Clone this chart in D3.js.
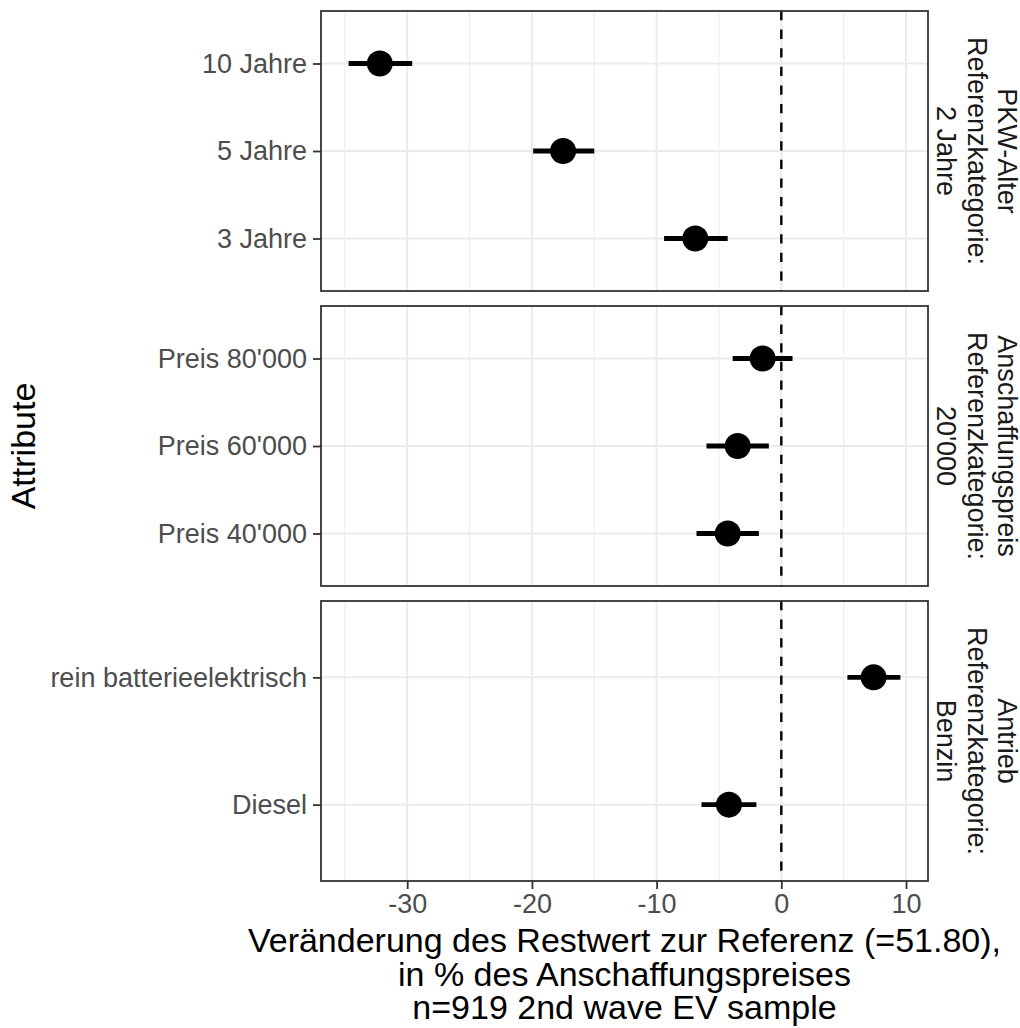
<!DOCTYPE html>
<html>
<head>
<meta charset="utf-8">
<script src="https://cdn.jsdelivr.net/npm/d3@7"></script>
<style>
  html, body { margin: 0; padding: 0; background: #ffffff; }
  svg { display: block; font-family: "Liberation Sans", Arial, Helvetica, sans-serif; }
</style>
</head>
<body>
<svg id="chart" width="1020" height="1028"></svg>
<script>
// ---- data ----
const facetTitles = [
  ["PKW-Alter", "Referenzkategorie:", "2 Jahre"],
  ["Anschaffungspreis", "Referenzkategorie:", "20'000"],
  ["Antrieb", "Referenzkategorie:", "Benzin"]
];
const attributes = ["10 Jahre", "5 Jahre", "3 Jahre",
                    "Preis 80'000", "Preis 60'000", "Preis 40'000",
                    "rein batterieelektrisch", "Diesel"];
const facetIndex = [0, 0, 0, 1, 1, 1, 2, 2];
const estimate = [-32.2, -17.5, -6.9, -1.5, -3.5, -4.3, 7.4, -4.2];
const lower    = [-34.7, -19.9, -9.4, -3.9, -6.0, -6.8, 5.3, -6.4];
const upper    = [-29.6, -15.0, -4.3,  0.9, -1.0, -1.8, 9.55, -2.0];
const xTicks = [-30, -20, -10, 0, 10];
const xMinorTicks = [-35, -25, -15, -5, 5];
const xTitleLines = ["Veränderung des Restwert zur Referenz (=51.80),",
                     "in % des Anschaffungspreises",
                     "n=919 2nd wave EV sample"];
const yTitle = "Attribute";

// ---- layout ----
const svg = d3.select("#chart");
const panelLeft = 321, panelRight = 928;
const panelTops = [11, 306, 601];
const panelH = 280;
const tickFont = 27, titleFont = 34;

const rows = attributes.map((a, i) => ({
  attr: a, facet: facetIndex[i], est: estimate[i], lo: lower[i], hi: upper[i]
}));

const xmin = d3.min(lower), xmax = d3.max(upper);
const ext = (xmax - xmin) * 0.05;
const x = d3.scaleLinear().domain([xmin - ext, xmax + ext]).range([panelLeft, panelRight]);

const grid = "#EBEBEB";
const border = "#333333";

facetTitles.forEach((title, f) => {
  const top = panelTops[f];
  const bottom = top + panelH;
  const data = rows.filter(r => r.facet === f);
  const y = d3.scalePoint().domain(data.map(d => d.attr)).range([top, bottom]).padding(0.6);
  const g = svg.append("g");

  g.append("rect").attr("x", panelLeft).attr("y", top)
    .attr("width", panelRight - panelLeft).attr("height", panelH).attr("fill", "#fff");

  g.selectAll(".minor").data(xMinorTicks).enter().append("line")
    .attr("x1", d => x(d)).attr("x2", d => x(d)).attr("y1", top).attr("y2", bottom)
    .attr("stroke", grid).attr("stroke-width", 1);
  g.selectAll(".major").data(xTicks).enter().append("line")
    .attr("x1", d => x(d)).attr("x2", d => x(d)).attr("y1", top).attr("y2", bottom)
    .attr("stroke", grid).attr("stroke-width", 2);
  g.selectAll(".hgrid").data(data).enter().append("line")
    .attr("x1", panelLeft).attr("x2", panelRight).attr("y1", d => y(d.attr)).attr("y2", d => y(d.attr))
    .attr("stroke", grid).attr("stroke-width", 2);

  g.append("line").attr("x1", x(0)).attr("x2", x(0)).attr("y1", top).attr("y2", bottom)
    .attr("stroke", "#000").attr("stroke-width", 2.4).attr("stroke-dasharray", "9.3,9.3");

  g.selectAll(".err").data(data).enter().append("line")
    .attr("x1", d => x(d.lo)).attr("x2", d => x(d.hi))
    .attr("y1", d => y(d.attr)).attr("y2", d => y(d.attr))
    .attr("stroke", "#000").attr("stroke-width", 4.8);
  g.selectAll(".pt").data(data).enter().append("circle")
    .attr("cx", d => x(d.est)).attr("cy", d => y(d.attr)).attr("r", 13)
    .attr("fill", "#000");

  g.append("rect").attr("x", panelLeft).attr("y", top)
    .attr("width", panelRight - panelLeft).attr("height", panelH)
    .attr("fill", "none").attr("stroke", border).attr("stroke-width", 1.8);

  const yAxis = d3.axisLeft(y).tickSize(8).tickPadding(6);
  const ya = g.append("g").attr("transform", `translate(${panelLeft},0)`).call(yAxis);
  ya.select(".domain").remove();
  ya.selectAll(".tick line").attr("stroke", border).attr("stroke-width", 1.8);
  ya.selectAll(".tick text").attr("fill", "#4D4D4D").attr("font-size", tickFont)
    .attr("font-family", "Liberation Sans, Arial, sans-serif");

  const cy = (top + bottom) / 2;
  const cx = 977, spacing = 30.5;
  title.forEach((line, i) => {
    const lx = cx + (1 - i) * spacing;
    g.append("text")
      .attr("transform", `translate(${lx},${cy}) rotate(90)`)
      .attr("text-anchor", "middle").attr("dy", "0.35em")
      .attr("font-size", tickFont).attr("fill", "#1A1A1A")
      .text(line);
  });
});

const lastBottom = panelTops[2] + panelH;
const xAxis = d3.axisBottom(x).tickValues(xTicks).tickSize(8).tickPadding(5).tickFormat(d3.format("d"));
const xa = svg.append("g").attr("transform", `translate(0,${lastBottom})`).call(xAxis);
xa.select(".domain").remove();
xa.selectAll(".tick line").attr("stroke", border).attr("stroke-width", 1.8);
xa.selectAll(".tick text").attr("fill", "#4D4D4D").attr("font-size", tickFont)
  .attr("font-family", "Liberation Sans, Arial, sans-serif")
  .text(d => d < 0 ? "-" + Math.abs(d) : d);

const xCenter = (panelLeft + panelRight) / 2;
xTitleLines.forEach((line, i) => {
  svg.append("text").attr("x", xCenter).attr("y", 952 + i * 33.5)
    .attr("text-anchor", "middle").attr("font-size", titleFont).attr("fill", "#000")
    .text(line);
});

svg.append("text")
  .attr("transform", `translate(35,${(panelTops[0] + lastBottom) / 2}) rotate(-90)`)
  .attr("text-anchor", "middle").attr("font-size", titleFont).attr("fill", "#000")
  .text(yTitle);
</script>
</body>
</html>
